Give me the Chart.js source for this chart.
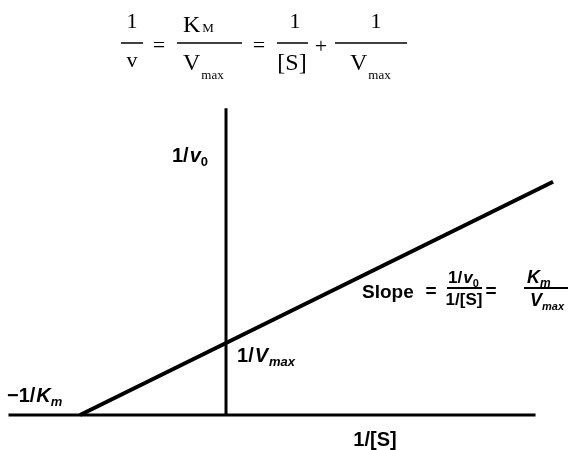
<!DOCTYPE html>
<html>
<head>
<meta charset="utf-8">
<script src="https://cdn.jsdelivr.net/npm/chart.js@4/dist/chart.umd.min.js"></script>
<style>
  html, body { margin: 0; padding: 0; background: #fff; }
  #wrap { width: 570px; height: 450px; }
</style>
</head>
<body>
<div id="wrap"><canvas id="chart" width="570" height="450"></canvas></div>
<script>
// Lineweaver-Burk: 1/v0 against 1/[S], Km = 1, Vmax = 1 (arbitrary units)
const lineX = [-1, 2.24];        // 1/[S]
const lineY = [0, 3.24];         // 1/v0
const xAxisX = [-1.49, 2.12];    // horizontal axis extent
const xAxisY = [0, 0];
const yAxisX = [0, 0];           // vertical axis extent
const yAxisY = [0, 4.26];

const labels = {
  xTitle: '1/[S]',
  slope: 'Slope'
};

const toPts = (xs, ys) => xs.map((x, i) => ({x: x, y: ys[i]}));

const SANS = '"Liberation Sans", Arial, sans-serif';
const SERIF = '"Liberation Serif", "Times New Roman", serif';

function txt(ctx, s, x, y, font, align) {
    ctx.font = font;
    ctx.textAlign = align || 'left';
    ctx.fillText(s, x, y);
    return x + ctx.measureText(s).width;
}

function bar(ctx, x1, x2, y, w) {
    ctx.beginPath();
    ctx.lineWidth = w;
    ctx.moveTo(x1, y);
    ctx.lineTo(x2, y);
    ctx.stroke();
}

const background = {
    id: 'background',
    beforeDraw(chart) {
        const ctx = chart.ctx;
        ctx.save();
        ctx.fillStyle = '#fff';
        ctx.fillRect(0, 0, chart.width, chart.height);
        ctx.restore();
    }
};

const annotations = {
    id: 'annotations',
    afterDatasetsDraw(chart) {
        const ctx = chart.ctx;
        const xs = chart.scales.x, ys = chart.scales.y;
        ctx.save();
        ctx.fillStyle = '#000';
        ctx.strokeStyle = '#000';
        ctx.textBaseline = 'alphabetic';

        // equation at the top
        const big = '22px ' + SERIF, sub = '13px ' + SERIF;
        txt(ctx, '1', 132, 28, big, 'center');
        bar(ctx, 121, 143, 43, 1.5);
        txt(ctx, 'v', 132, 67, big, 'center');
        txt(ctx, '=', 159, 52, big, 'center');

        let e = txt(ctx, 'K', 183, 32, '24px ' + SERIF);
        txt(ctx, 'M', e + 2, 32, sub);
        bar(ctx, 177, 242, 43, 1.5);
        e = txt(ctx, 'V', 183, 70, '24px ' + SERIF);
        txt(ctx, 'max', e + 1, 79, sub);
        txt(ctx, '=', 259, 52, big, 'center');

        txt(ctx, '1', 295, 28, big, 'center');
        bar(ctx, 277, 308, 43, 1.5);
        txt(ctx, '[S]', 292, 70, '24px ' + SERIF, 'center');
        txt(ctx, '+', 321, 53, big, 'center');

        txt(ctx, '1', 376, 28, big, 'center');
        bar(ctx, 335, 407, 43, 1.5);
        e = txt(ctx, 'V', 350, 70, '24px ' + SERIF);
        txt(ctx, 'max', e + 1, 79, sub);

        // axis labels
        const b = 'bold 20px ' + SANS, bi = 'italic bold 20px ' + SANS;
        const sb = 'bold 13px ' + SANS, sbi = 'italic bold 13px ' + SANS;

        const x0 = xs.getPixelForValue(0);
        e = txt(ctx, '1/', 172, 162, b);
        e = txt(ctx, 'v', e + 1, 162, bi);
        txt(ctx, '0', e, 166, sb);

        const yi = ys.getPixelForValue(1);
        e = txt(ctx, '1/', x0 + 11, yi + 19, b);
        e = txt(ctx, 'V', e + 1, yi + 19, bi);
        txt(ctx, 'max', e + 1, yi + 23, sbi);

        const yb = ys.getPixelForValue(0);
        e = txt(ctx, '\u22121/', 7, yb - 13, b);
        e = txt(ctx, 'K', e + 1, yb - 13, bi);
        txt(ctx, 'm', e, yb - 9, sbi);

        txt(ctx, labels.xTitle, 375, yb + 31, b, 'center');

        // slope annotation
        const s = 'bold 19px ' + SANS, si = 'italic bold 18px ' + SANS;
        const f = 'bold 17px ' + SANS;
        txt(ctx, labels.slope, 362, 298, s);
        txt(ctx, '=', 431, 297, s, 'center');
        e = txt(ctx, '1/', 448, 283, f);
        e = txt(ctx, 'v', e + 1, 283, 'italic ' + f);
        txt(ctx, '0', e, 287, 'bold 11px ' + SANS);
        bar(ctx, 447, 482, 288, 2);
        txt(ctx, '1/[S]', 464, 305, f, 'center');
        txt(ctx, '=', 491, 297, s, 'center');
        e = txt(ctx, 'K', 527, 283, si);
        txt(ctx, 'm', e, 287, 'italic bold 12px ' + SANS);
        bar(ctx, 524, 568, 288, 2);
        e = txt(ctx, 'V', 530, 306, si);
        txt(ctx, 'max', e, 310, 'italic bold 11px ' + SANS);

        ctx.restore();
    }
};

new Chart(document.getElementById('chart'), {
    type: 'line',
    data: {
        datasets: [
            {
                label: 'x axis',
                data: toPts(xAxisX, xAxisY),
                borderColor: '#000',
                borderWidth: 3,
                pointRadius: 0
            },
            {
                label: 'y axis',
                data: toPts(yAxisX, yAxisY),
                borderColor: '#000',
                borderWidth: 3,
                pointRadius: 0
            },
            {
                label: 'Lineweaver-Burk',
                data: toPts(lineX, lineY),
                borderColor: '#000',
                borderWidth: 4,
                pointRadius: 0
            }
        ]
    },
    options: {
        responsive: false,
        animation: false,
        events: [],
        layout: { padding: 0 },
        plugins: {
            legend: { display: false },
            tooltip: { enabled: false }
        },
        scales: {
            x: { type: 'linear', display: false, min: -1.548, max: 2.356 },
            y: { type: 'linear', display: false, min: -0.486, max: 5.764 }
        }
    },
    plugins: [background, annotations]
});
</script>
</body>
</html>
